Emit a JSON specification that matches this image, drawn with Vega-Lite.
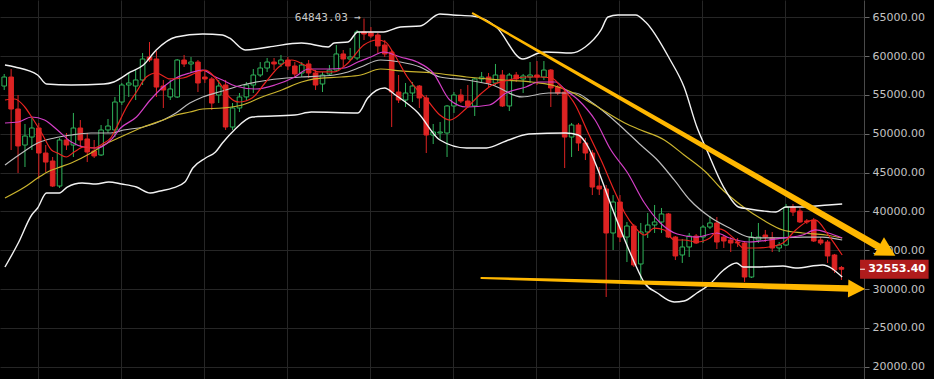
{
"$schema":"https://vega.github.io/schema/vega-lite/v6.json",
"width":864,"height":379,
"autosize":{"type":"none"},
"padding":{"left":0,"top":0,"right":70,"bottom":0},
"background":"#000000",
"config":{"view":{"stroke":null}},
"datasets":{
"candles":[
{"x":-1,"o":56150,"h":57700,"l":55640,"c":57310},
{"x":0,"o":57310,"h":58340,"l":47910,"c":53190},
{"x":1,"o":53190,"h":54990,"l":44950,"c":48430},
{"x":2,"o":48550,"h":51260,"l":45720,"c":49710},
{"x":3,"o":49580,"h":52030,"l":47910,"c":50740},
{"x":4,"o":50740,"h":51390,"l":44180,"c":47520},
{"x":5,"o":47520,"h":48550,"l":45080,"c":46360},
{"x":6,"o":46490,"h":47010,"l":43140,"c":43270},
{"x":7,"o":43270,"h":49460,"l":43020,"c":49200},
{"x":8,"o":49200,"h":50100,"l":47910,"c":48550},
{"x":9,"o":48550,"h":52680,"l":47010,"c":50740},
{"x":10,"o":50740,"h":51770,"l":48300,"c":49200},
{"x":11,"o":49330,"h":50100,"l":46360,"c":47650},
{"x":12,"o":47780,"h":49200,"l":46880,"c":47140},
{"x":13,"o":47270,"h":51130,"l":47140,"c":50490},
{"x":14,"o":50490,"h":51900,"l":50100,"c":51000},
{"x":15,"o":50490,"h":54740,"l":49580,"c":54090},
{"x":16,"o":54090,"h":56540,"l":53710,"c":56280},
{"x":17,"o":56280,"h":57830,"l":54740,"c":56540},
{"x":18,"o":56150,"h":58210,"l":54350,"c":56930},
{"x":19,"o":56930,"h":60400,"l":56280,"c":59630},
{"x":20,"o":59890,"h":61820,"l":59240,"c":59500},
{"x":21,"o":59630,"h":60660,"l":54740,"c":56020},
{"x":22,"o":56150,"h":56930,"l":53320,"c":55640},
{"x":23,"o":54740,"h":56930,"l":54350,"c":55770},
{"x":24,"o":54740,"h":59630,"l":54610,"c":59500},
{"x":25,"o":59500,"h":60150,"l":58600,"c":58990},
{"x":26,"o":58990,"h":59890,"l":57830,"c":59240},
{"x":27,"o":59240,"h":59500,"l":55380,"c":56540},
{"x":28,"o":57310,"h":58210,"l":56540,"c":57060},
{"x":29,"o":57060,"h":57310,"l":53060,"c":53960},
{"x":30,"o":54990,"h":56930,"l":53960,"c":56150},
{"x":31,"o":56280,"h":56930,"l":50490,"c":50870},
{"x":32,"o":50870,"h":53960,"l":50490,"c":53320},
{"x":33,"o":53320,"h":55250,"l":52800,"c":54740},
{"x":34,"o":54740,"h":56670,"l":54350,"c":56280},
{"x":35,"o":56280,"h":58340,"l":55250,"c":57570},
{"x":36,"o":57570,"h":59240,"l":57310,"c":58470},
{"x":37,"o":58470,"h":59760,"l":57960,"c":59240},
{"x":38,"o":59240,"h":59760,"l":58210,"c":58990},
{"x":39,"o":58990,"h":60150,"l":58600,"c":59500},
{"x":40,"o":59500,"h":59890,"l":58210,"c":58730},
{"x":41,"o":58730,"h":59240,"l":57180,"c":57700},
{"x":42,"o":57830,"h":59240,"l":57310,"c":58860},
{"x":43,"o":58990,"h":59500,"l":57180,"c":57830},
{"x":44,"o":57830,"h":58210,"l":55640,"c":56280},
{"x":45,"o":56410,"h":57960,"l":55380,"c":57570},
{"x":46,"o":57700,"h":58860,"l":57570,"c":58210},
{"x":47,"o":58210,"h":61430,"l":58090,"c":60280},
{"x":48,"o":60280,"h":60790,"l":58600,"c":59630},
{"x":49,"o":59630,"h":61050,"l":59370,"c":59890},
{"x":50,"o":59760,"h":63370,"l":59500,"c":63110},
{"x":51,"o":63110,"h":64843.03,"l":62080,"c":62850},
{"x":52,"o":62980,"h":63750,"l":62340,"c":62590},
{"x":53,"o":62720,"h":62980,"l":60400,"c":61310},
{"x":54,"o":61430,"h":62080,"l":59890,"c":60280},
{"x":55,"o":60530,"h":60790,"l":50870,"c":55380},
{"x":56,"o":55380,"h":57570,"l":53960,"c":54350},
{"x":57,"o":54350,"h":56540,"l":53450,"c":55250},
{"x":58,"o":55250,"h":56670,"l":54090,"c":56150},
{"x":59,"o":56150,"h":56280,"l":53320,"c":54610},
{"x":60,"o":54610,"h":54990,"l":47520,"c":49840},
{"x":61,"o":49840,"h":51260,"l":48680,"c":50230},
{"x":62,"o":50100,"h":51520,"l":49200,"c":50230},
{"x":63,"o":50100,"h":53710,"l":47010,"c":53580},
{"x":64,"o":53580,"h":55380,"l":52680,"c":54990},
{"x":65,"o":54990,"h":55770,"l":53960,"c":54220},
{"x":66,"o":54220,"h":56280,"l":53320,"c":53580},
{"x":67,"o":53580,"h":57180,"l":52290,"c":57060},
{"x":68,"o":57060,"h":57960,"l":56540,"c":57310},
{"x":69,"o":57310,"h":57830,"l":56020,"c":56540},
{"x":70,"o":56540,"h":58990,"l":56280,"c":57570},
{"x":71,"o":57570,"h":58210,"l":53450,"c":53580},
{"x":72,"o":53580,"h":57830,"l":52930,"c":57570},
{"x":73,"o":57570,"h":57960,"l":56670,"c":57060},
{"x":74,"o":57060,"h":57700,"l":55250,"c":57440},
{"x":75,"o":57310,"h":59240,"l":56540,"c":57570},
{"x":76,"o":57570,"h":59370,"l":56280,"c":57310},
{"x":77,"o":57310,"h":59370,"l":56930,"c":58210},
{"x":78,"o":58210,"h":58340,"l":53450,"c":55900},
{"x":79,"o":56020,"h":56280,"l":54990,"c":55250},
{"x":80,"o":55380,"h":55900,"l":45590,"c":49580},
{"x":81,"o":49580,"h":51390,"l":47010,"c":51130},
{"x":82,"o":51130,"h":51390,"l":47780,"c":48810},
{"x":83,"o":48810,"h":49460,"l":46620,"c":47520},
{"x":84,"o":47520,"h":47910,"l":42110,"c":43140},
{"x":85,"o":43270,"h":45720,"l":42110,"c":42890},
{"x":86,"o":42890,"h":43400,"l":28980,"c":37220},
{"x":87,"o":37220,"h":42110,"l":35030,"c":41210},
{"x":88,"o":41210,"h":42110,"l":36060,"c":36700},
{"x":89,"o":36700,"h":38640,"l":33480,"c":38120},
{"x":90,"o":38120,"h":38380,"l":32840,"c":33100},
{"x":91,"o":33230,"h":38510,"l":31170,"c":37350},
{"x":92,"o":37350,"h":39800,"l":36580,"c":38250},
{"x":93,"o":38250,"h":40830,"l":37220,"c":38640},
{"x":94,"o":38640,"h":40440,"l":37220,"c":39670},
{"x":95,"o":39670,"h":39800,"l":36580,"c":36700},
{"x":96,"o":36700,"h":36830,"l":33740,"c":34260},
{"x":97,"o":34390,"h":36450,"l":33360,"c":35420},
{"x":98,"o":35420,"h":37220,"l":34130,"c":36830},
{"x":99,"o":36830,"h":37090,"l":35800,"c":35930},
{"x":100,"o":36700,"h":38250,"l":35930,"c":37990},
{"x":101,"o":37990,"h":39410,"l":37740,"c":38510},
{"x":102,"o":38510,"h":39280,"l":35160,"c":36060},
{"x":103,"o":36700,"h":36960,"l":35290,"c":36190},
{"x":104,"o":36320,"h":36700,"l":34770,"c":35930},
{"x":105,"o":36060,"h":36580,"l":35420,"c":35930},
{"x":106,"o":35930,"h":36060,"l":30910,"c":31550},
{"x":107,"o":31550,"h":37350,"l":31420,"c":36700},
{"x":108,"o":36320,"h":38510,"l":35930,"c":36700},
{"x":109,"o":36960,"h":37610,"l":36060,"c":36700},
{"x":110,"o":36580,"h":37350,"l":34770,"c":35290},
{"x":111,"o":35290,"h":36060,"l":34770,"c":35670},
{"x":112,"o":35670,"h":40960,"l":35550,"c":40570},
{"x":113,"o":40570,"h":40960,"l":39410,"c":39920},
{"x":114,"o":40050,"h":40440,"l":38510,"c":38640},
{"x":115,"o":38770,"h":39020,"l":38380,"c":38640},
{"x":116,"o":38890,"h":39150,"l":36060,"c":36190},
{"x":117,"o":36320,"h":36700,"l":35670,"c":35930},
{"x":118,"o":36060,"h":36320,"l":33360,"c":34260},
{"x":119,"o":34390,"h":34520,"l":32070,"c":32450},
{"x":120,"o":32780,"h":32970,"l":31170,"c":32553.4}
],
"lines":[
{"s":"U","x":-0.89,"v":58860},{"s":"U","x":0.54,"v":58600},{"s":"U","x":3.83,"v":57570},{"s":"U","x":5.11,"v":56410},{"s":"U","x":8.69,"v":56280},{"s":"U","x":13.4,"v":56410},{"s":"U","x":14.83,"v":56670},{"s":"U","x":17.26,"v":57960},{"s":"U","x":19.11,"v":58860},{"s":"U","x":20.97,"v":60790},{"s":"U","x":23.83,"v":62460},{"s":"U","x":27.69,"v":62850},{"s":"U","x":30.54,"v":62720},{"s":"U","x":31.54,"v":62340},{"s":"U","x":33.83,"v":60790},{"s":"U","x":37.26,"v":61180},{"s":"U","x":41.97,"v":61690},{"s":"U","x":45.83,"v":61180},{"s":"U","x":46.69,"v":61690},{"s":"U","x":48.69,"v":61820},{"s":"U","x":50.11,"v":63110},{"s":"U","x":51.54,"v":63110},{"s":"U","x":53.83,"v":63110},{"s":"U","x":56.26,"v":63750},{"s":"U","x":59.11,"v":63880},{"s":"U","x":61.97,"v":65430},{"s":"U","x":63.83,"v":65300},{"s":"U","x":66.69,"v":65170},{"s":"U","x":70.11,"v":63750},{"s":"U","x":73.97,"v":59630},{"s":"U","x":76.26,"v":60400},{"s":"U","x":77.26,"v":60530},{"s":"U","x":80.97,"v":60400},{"s":"U","x":82.97,"v":61180},{"s":"U","x":85.26,"v":63370},{"s":"U","x":86.26,"v":65040},{"s":"U","x":87.69,"v":65300},{"s":"U","x":90.26,"v":65300},{"s":"U","x":91.69,"v":64400},{"s":"U","x":95.26,"v":59500},{"s":"U","x":97.26,"v":56020},{"s":"U","x":99.11,"v":50870},{"s":"U","x":100.54,"v":47910},{"s":"U","x":102.97,"v":43140},{"s":"U","x":105.11,"v":40570},{"s":"U","x":106.69,"v":40310},{"s":"U","x":108.69,"v":40050},{"s":"U","x":110.54,"v":39920},{"s":"U","x":111.97,"v":40570},{"s":"U","x":113.83,"v":40570},{"s":"U","x":118.11,"v":40830},{"s":"U","x":120.11,"v":40960},
{"s":"M","x":-0.89,"v":45980},{"s":"M","x":1.54,"v":47520},{"s":"M","x":3.83,"v":48810},{"s":"M","x":6.26,"v":49460},{"s":"M","x":8.69,"v":49840},{"s":"M","x":11.54,"v":50100},{"s":"M","x":14.4,"v":50100},{"s":"M","x":16.26,"v":50490},{"s":"M","x":19.11,"v":50870},{"s":"M","x":21.97,"v":51770},{"s":"M","x":23.83,"v":52680},{"s":"M","x":25.83,"v":53960},{"s":"M","x":27.69,"v":54740},{"s":"M","x":30.54,"v":55510},{"s":"M","x":33.4,"v":56280},{"s":"M","x":37.26,"v":56930},{"s":"M","x":41.97,"v":57310},{"s":"M","x":46.69,"v":57570},{"s":"M","x":48.69,"v":57960},{"s":"M","x":50.54,"v":58600},{"s":"M","x":53.4,"v":59500},{"s":"M","x":56.26,"v":59240},{"s":"M","x":59.11,"v":58600},{"s":"M","x":61.97,"v":57310},{"s":"M","x":65.83,"v":56930},{"s":"M","x":69.54,"v":56280},{"s":"M","x":73.83,"v":54740},{"s":"M","x":77.69,"v":55250},{"s":"M","x":81.54,"v":55250},{"s":"M","x":83.83,"v":54090},{"s":"M","x":86.26,"v":52420},{"s":"M","x":88.69,"v":50490},{"s":"M","x":91,"v":48550},{"s":"M","x":93.4,"v":46620},{"s":"M","x":95.83,"v":44050},{"s":"M","x":98.11,"v":41470},{"s":"M","x":101,"v":39280},{"s":"M","x":103.83,"v":37860},{"s":"M","x":106.69,"v":36700},{"s":"M","x":108.69,"v":36580},{"s":"M","x":111.54,"v":36580},{"s":"M","x":114.4,"v":36700},{"s":"M","x":117.26,"v":36700},{"s":"M","x":120.11,"v":36320},
{"s":"L","x":-0.89,"v":32840},{"s":"L","x":1.03,"v":35930},{"s":"L","x":2.97,"v":39540},{"s":"L","x":3.83,"v":40440},{"s":"L","x":5.11,"v":42370},{"s":"L","x":6.97,"v":42370},{"s":"L","x":8.11,"v":43140},{"s":"L","x":10.26,"v":43660},{"s":"L","x":12.26,"v":43530},{"s":"L","x":14.11,"v":43790},{"s":"L","x":15.97,"v":43530},{"s":"L","x":18.11,"v":43140},{"s":"L","x":20.11,"v":42370},{"s":"L","x":21.54,"v":42630},{"s":"L","x":23.4,"v":43020},{"s":"L","x":25.11,"v":43790},{"s":"L","x":26.26,"v":45590},{"s":"L","x":28.11,"v":46880},{"s":"L","x":29.54,"v":47650},{"s":"L","x":30.54,"v":48810},{"s":"L","x":32.26,"v":50490},{"s":"L","x":34.83,"v":52160},{"s":"L","x":41,"v":52420},{"s":"L","x":43.4,"v":52800},{"s":"L","x":50.11,"v":52680},{"s":"L","x":51.54,"v":54610},{"s":"L","x":53.97,"v":55900},{"s":"L","x":55.54,"v":54990},{"s":"L","x":58.83,"v":52680},{"s":"L","x":61.97,"v":49200},{"s":"L","x":65.83,"v":48170},{"s":"L","x":68.69,"v":48170},{"s":"L","x":71.54,"v":49070},{"s":"L","x":74.83,"v":49970},{"s":"L","x":80.11,"v":50100},{"s":"L","x":81.97,"v":49840},{"s":"L","x":83.4,"v":48300},{"s":"L","x":84.83,"v":45330},{"s":"L","x":86.69,"v":40830},{"s":"L","x":88.69,"v":36320},{"s":"L","x":90.11,"v":33360},{"s":"L","x":91.54,"v":30780},{"s":"L","x":93.4,"v":29490},{"s":"L","x":95.83,"v":28330},{"s":"L","x":97.26,"v":28460},{"s":"L","x":99.11,"v":29490},{"s":"L","x":101,"v":30650},{"s":"L","x":102.97,"v":32450},{"s":"L","x":104.83,"v":33360},{"s":"L","x":105.83,"v":32840},{"s":"L","x":107.69,"v":32840},{"s":"L","x":111.54,"v":32970},{"s":"L","x":113.4,"v":32710},{"s":"L","x":117.26,"v":33100},{"s":"L","x":120.11,"v":31550},
{"s":"Y","x":-0.89,"v":41730},{"s":"Y","x":1.97,"v":43140},{"s":"Y","x":3.83,"v":44300},{"s":"Y","x":5.26,"v":45080},{"s":"Y","x":6.69,"v":45590},{"s":"Y","x":8.69,"v":46240},{"s":"Y","x":11.54,"v":47520},{"s":"Y","x":13.4,"v":48550},{"s":"Y","x":15.83,"v":49580},{"s":"Y","x":19.11,"v":50870},{"s":"Y","x":21.97,"v":51770},{"s":"Y","x":23.83,"v":52420},{"s":"Y","x":25.83,"v":52800},{"s":"Y","x":27.69,"v":53190},{"s":"Y","x":30.54,"v":53320},{"s":"Y","x":33.4,"v":53710},{"s":"Y","x":36.26,"v":54740},{"s":"Y","x":39.11,"v":55640},{"s":"Y","x":41.97,"v":56670},{"s":"Y","x":43.83,"v":57060},{"s":"Y","x":47.69,"v":57310},{"s":"Y","x":50.54,"v":57570},{"s":"Y","x":53.4,"v":58340},{"s":"Y","x":56.26,"v":58090},{"s":"Y","x":61,"v":57830},{"s":"Y","x":65.83,"v":57310},{"s":"Y","x":70.54,"v":56930},{"s":"Y","x":75.26,"v":56670},{"s":"Y","x":78.11,"v":56280},{"s":"Y","x":80.97,"v":55380},{"s":"Y","x":83.83,"v":53960},{"s":"Y","x":88.69,"v":51390},{"s":"Y","x":91,"v":50490},{"s":"Y","x":94.4,"v":49200},{"s":"Y","x":97.26,"v":47270},{"s":"Y","x":100.54,"v":44950},{"s":"Y","x":102.4,"v":43140},{"s":"Y","x":105.83,"v":40570},{"s":"Y","x":108.69,"v":38890},{"s":"Y","x":111.54,"v":37610},{"s":"Y","x":114.4,"v":37220},{"s":"Y","x":117.69,"v":36960},{"s":"Y","x":120.11,"v":36580},
{"s":"P","x":-0.89,"v":51390},{"s":"P","x":1.03,"v":51520},{"s":"P","x":2.97,"v":52160},{"s":"P","x":4.83,"v":51770},{"s":"P","x":6.69,"v":50490},{"s":"P","x":8.69,"v":48940},{"s":"P","x":10.54,"v":48300},{"s":"P","x":12.4,"v":48170},{"s":"P","x":14.4,"v":49200},{"s":"P","x":15.83,"v":50740},{"s":"P","x":18.11,"v":52160},{"s":"P","x":20.11,"v":54350},{"s":"P","x":21.97,"v":56020},{"s":"P","x":23.83,"v":57180},{"s":"P","x":25.83,"v":57830},{"s":"P","x":27.69,"v":58210},{"s":"P","x":29.54,"v":57310},{"s":"P","x":30.54,"v":56930},{"s":"P","x":32.4,"v":56150},{"s":"P","x":35.26,"v":55770},{"s":"P","x":38.11,"v":56280},{"s":"P","x":41,"v":57310},{"s":"P","x":42.97,"v":58340},{"s":"P","x":45.83,"v":58340},{"s":"P","x":48.11,"v":58470},{"s":"P","x":50.11,"v":59240},{"s":"P","x":51.97,"v":59890},{"s":"P","x":53.83,"v":60530},{"s":"P","x":56.26,"v":59890},{"s":"P","x":58.69,"v":59240},{"s":"P","x":61,"v":57830},{"s":"P","x":63.4,"v":54350},{"s":"P","x":65.83,"v":53450},{"s":"P","x":69.11,"v":53710},{"s":"P","x":71.54,"v":55250},{"s":"P","x":74.4,"v":56020},{"s":"P","x":76.26,"v":56670},{"s":"P","x":78.69,"v":56670},{"s":"P","x":80.11,"v":55640},{"s":"P","x":81.97,"v":54350},{"s":"P","x":84.4,"v":51770},{"s":"P","x":86.69,"v":47910},{"s":"P","x":89.11,"v":44950},{"s":"P","x":91.54,"v":41080},{"s":"P","x":93.83,"v":38510},{"s":"P","x":96.26,"v":37090},{"s":"P","x":99.11,"v":36700},{"s":"P","x":101.97,"v":37220},{"s":"P","x":103.83,"v":36580},{"s":"P","x":106.69,"v":36060},{"s":"P","x":109.54,"v":36320},{"s":"P","x":111.54,"v":36580},{"s":"P","x":114.4,"v":36960},{"s":"P","x":116.26,"v":37610},{"s":"P","x":118.11,"v":37220},{"s":"P","x":120.11,"v":36580},
{"s":"R","x":-0.89,"v":54350},{"s":"R","x":0.54,"v":54480},{"s":"R","x":1.97,"v":53450},{"s":"R","x":2.97,"v":52160},{"s":"R","x":4.4,"v":50100},{"s":"R","x":5.83,"v":47910},{"s":"R","x":6.69,"v":47520},{"s":"R","x":7.97,"v":47010},{"s":"R","x":9.11,"v":47650},{"s":"R","x":10.54,"v":48300},{"s":"R","x":11.97,"v":48170},{"s":"R","x":13.4,"v":48810},{"s":"R","x":14.4,"v":49460},{"s":"R","x":15.26,"v":50870},{"s":"R","x":16.69,"v":53450},{"s":"R","x":18.11,"v":55380},{"s":"R","x":19.54,"v":57310},{"s":"R","x":20.97,"v":57830},{"s":"R","x":22.97,"v":57060},{"s":"R","x":24.83,"v":57180},{"s":"R","x":26.69,"v":57830},{"s":"R","x":28.11,"v":58210},{"s":"R","x":29.54,"v":57180},{"s":"R","x":30.54,"v":56020},{"s":"R","x":31.54,"v":54740},{"s":"R","x":32.97,"v":54090},{"s":"R","x":34.83,"v":54610},{"s":"R","x":36.69,"v":56540},{"s":"R","x":38.69,"v":58600},{"s":"R","x":40.54,"v":59500},{"s":"R","x":42.4,"v":58860},{"s":"R","x":44.4,"v":57960},{"s":"R","x":46.69,"v":57960},{"s":"R","x":48.69,"v":59120},{"s":"R","x":50.97,"v":61430},{"s":"R","x":52.97,"v":62080},{"s":"R","x":54.11,"v":61820},{"s":"R","x":55.26,"v":60400},{"s":"R","x":57.26,"v":57310},{"s":"R","x":59.11,"v":55250},{"s":"R","x":60.11,"v":54350},{"s":"R","x":61.97,"v":52420},{"s":"R","x":63.4,"v":51770},{"s":"R","x":65.83,"v":53320},{"s":"R","x":67.69,"v":54990},{"s":"R","x":69.54,"v":56280},{"s":"R","x":71.97,"v":56930},{"s":"R","x":74.4,"v":57310},{"s":"R","x":76.26,"v":57310},{"s":"R","x":78.11,"v":57180},{"s":"R","x":79.54,"v":56020},{"s":"R","x":81.54,"v":53710},{"s":"R","x":83.4,"v":50100},{"s":"R","x":85.26,"v":46620},{"s":"R","x":87.26,"v":42500},{"s":"R","x":88.69,"v":39800},{"s":"R","x":90.11,"v":37990},{"s":"R","x":91.54,"v":36960},{"s":"R","x":92.97,"v":37860},{"s":"R","x":94.4,"v":37610},{"s":"R","x":95.83,"v":36320},{"s":"R","x":97.26,"v":36320},{"s":"R","x":99.11,"v":36060},{"s":"R","x":101,"v":36580},{"s":"R","x":102.4,"v":37740},{"s":"R","x":104.4,"v":36580},{"s":"R","x":105.83,"v":35290},{"s":"R","x":107.69,"v":35290},{"s":"R","x":109.54,"v":35420},{"s":"R","x":111.54,"v":35930},{"s":"R","x":113.4,"v":37610},{"s":"R","x":115.26,"v":38770},{"s":"R","x":116.26,"v":38890},{"s":"R","x":118.11,"v":36960},{"s":"R","x":120.11,"v":34390}
],
"arrows":[
{"a":"top","x":66.73,"v":65517},{"a":"top","x":125.69,"v":35288},
{"a":"bottom","x":67.97,"v":31424},{"a":"bottom","x":120.97,"v":30072}
],
"headTop":[{"x":126.6,"v":34900}],
"headBottom":[{"x":122.2,"v":30046}],
"maxLabel":[{"x":51,"v":64843.03,"t":"64843.03 →"}],
"last":[{"v":32553.4,"t":"32553.40"}]
},
"layer":[
{"data":{"name":"candles"},"mark":{"type":"rule","strokeWidth":1},
"encoding":{
"x":{"field":"x","type":"quantitative","scale":{"domain":[-0.886,122.54],"nice":false,"zero":false},
"axis":{"grid":true,"values":[3.83,15.83,27.83,39.83,51.83,63.83,75.83,87.83,99.83,111.83],"labels":false,"ticks":false,"domain":false,"title":null,"gridColor":"#262626","gridWidth":1}},
"y":{"field":"l","type":"quantitative","scale":{"domain":[18415,67230],"nice":false,"zero":false},
"axis":{"orient":"right","values":[20000,25000,30000,35000,40000,45000,50000,55000,60000,65000],"format":".2f","title":null,"grid":true,"gridColor":"#262626","labelColor":"#c3c3c3","labelFont":"DejaVu Sans","labelFontSize":11,"tickColor":"#6a6a6a","tickSize":5,"labelPadding":3,"domainColor":"#4a4a4a"}},
"y2":{"field":"h"},
"color":{"condition":{"test":"datum.c >= datum.o","value":"#2fb35a"},"value":"#dd2323"}
}},
{"data":{"name":"candles"},"mark":{"type":"bar","width":4.6,"strokeWidth":1},
"encoding":{
"x":{"field":"x","type":"quantitative","scale":{"domain":[-0.886,122.54],"nice":false,"zero":false},
"axis":{"grid":true,"values":[3.83,15.83,27.83,39.83,51.83,63.83,75.83,87.83,99.83,111.83],"labels":false,"ticks":false,"domain":false,"title":null,"gridColor":"#262626","gridWidth":1}},
"y":{"field":"o","type":"quantitative","scale":{"domain":[18415,67230],"nice":false,"zero":false},
"axis":{"orient":"right","values":[20000,25000,30000,35000,40000,45000,50000,55000,60000,65000],"format":".2f","title":null,"grid":true,"gridColor":"#262626","labelColor":"#c3c3c3","labelFont":"DejaVu Sans","labelFontSize":11,"tickColor":"#6a6a6a","tickSize":5,"labelPadding":3,"domainColor":"#4a4a4a"}},
"y2":{"field":"c"},
"fill":{"condition":{"test":"datum.c >= datum.o","value":"#000000"},"value":"#dd2323"},
"stroke":{"condition":{"test":"datum.c >= datum.o","value":"#2fb35a"},"value":"#dd2323"}
}},
{"data":{"name":"lines"},"transform":[{"filter":"datum.s != 'U' && datum.s != 'L'"}],"mark":{"type":"line","strokeWidth":1.2,"interpolate":"monotone"},
"encoding":{
"x":{"field":"x","type":"quantitative","scale":{"domain":[-0.886,122.54],"nice":false,"zero":false},
"axis":{"grid":true,"values":[3.83,15.83,27.83,39.83,51.83,63.83,75.83,87.83,99.83,111.83],"labels":false,"ticks":false,"domain":false,"title":null,"gridColor":"#262626","gridWidth":1}},
"y":{"field":"v","type":"quantitative","scale":{"domain":[18415,67230],"nice":false,"zero":false},
"axis":{"orient":"right","values":[20000,25000,30000,35000,40000,45000,50000,55000,60000,65000],"format":".2f","title":null,"grid":true,"gridColor":"#262626","labelColor":"#c3c3c3","labelFont":"DejaVu Sans","labelFontSize":11,"tickColor":"#6a6a6a","tickSize":5,"labelPadding":3,"domainColor":"#4a4a4a"}},
"color":{"field":"s","type":"nominal","scale":{"domain":["U","L","M","Y","P","R"],"range":["#f2f2f2","#f2f2f2","#bdbdbd","#cbb42e","#d43fc6","#e8231f"]},"legend":null},
"order":{"field":"x","type":"quantitative"}
}},
{"data":{"name":"lines"},"transform":[{"filter":"datum.s == 'U' || datum.s == 'L'"}],"mark":{"type":"line","strokeWidth":1.4,"interpolate":"monotone"},
"encoding":{
"x":{"field":"x","type":"quantitative","scale":{"domain":[-0.886,122.54],"nice":false,"zero":false},
"axis":{"grid":true,"values":[3.83,15.83,27.83,39.83,51.83,63.83,75.83,87.83,99.83,111.83],"labels":false,"ticks":false,"domain":false,"title":null,"gridColor":"#262626","gridWidth":1}},
"y":{"field":"v","type":"quantitative","scale":{"domain":[18415,67230],"nice":false,"zero":false},
"axis":{"orient":"right","values":[20000,25000,30000,35000,40000,45000,50000,55000,60000,65000],"format":".2f","title":null,"grid":true,"gridColor":"#262626","labelColor":"#c3c3c3","labelFont":"DejaVu Sans","labelFontSize":11,"tickColor":"#6a6a6a","tickSize":5,"labelPadding":3,"domainColor":"#4a4a4a"}},
"color":{"field":"s","type":"nominal","scale":{"domain":["U","L","M","Y","P","R"],"range":["#f2f2f2","#f2f2f2","#bdbdbd","#cbb42e","#d43fc6","#e8231f"]},"legend":null},
"order":{"field":"x","type":"quantitative"}
}},
{"data":{"name":"maxLabel"},"mark":{"type":"text","align":"right","baseline":"middle","dx":-3,"dy":-1,"font":"DejaVu Sans Mono","fontSize":11,"color":"#c8c8c8"},
"encoding":{
"x":{"field":"x","type":"quantitative","scale":{"domain":[-0.886,122.54],"nice":false,"zero":false},
"axis":{"grid":true,"values":[3.83,15.83,27.83,39.83,51.83,63.83,75.83,87.83,99.83,111.83],"labels":false,"ticks":false,"domain":false,"title":null,"gridColor":"#262626","gridWidth":1}},
"y":{"field":"v","type":"quantitative","scale":{"domain":[18415,67230],"nice":false,"zero":false},
"axis":{"orient":"right","values":[20000,25000,30000,35000,40000,45000,50000,55000,60000,65000],"format":".2f","title":null,"grid":true,"gridColor":"#262626","labelColor":"#c3c3c3","labelFont":"DejaVu Sans","labelFontSize":11,"tickColor":"#6a6a6a","tickSize":5,"labelPadding":3,"domainColor":"#4a4a4a"}},
"text":{"field":"t"}
}},
{"data":{"name":"last"},"mark":{"type":"rect","color":"#b01c1c"},
"encoding":{
"x":{"datum":122.69,"type":"quantitative","scale":{"domain":[-0.886,122.54],"nice":false,"zero":false},
"axis":{"grid":true,"values":[3.83,15.83,27.83,39.83,51.83,63.83,75.83,87.83,99.83,111.83],"labels":false,"ticks":false,"domain":false,"title":null,"gridColor":"#262626","gridWidth":1}},
"x2":{"datum":132.6},
"y":{"datum":33777,"type":"quantitative","scale":{"domain":[18415,67230],"nice":false,"zero":false},
"axis":{"orient":"right","values":[20000,25000,30000,35000,40000,45000,50000,55000,60000,65000],"format":".2f","title":null,"grid":true,"gridColor":"#262626","labelColor":"#c3c3c3","labelFont":"DejaVu Sans","labelFontSize":11,"tickColor":"#6a6a6a","tickSize":5,"labelPadding":3,"domainColor":"#4a4a4a"}},
"y2":{"datum":31330}
}},
{"data":{"name":"last"},"mark":{"type":"rule","color":"#ffffff","strokeWidth":1},
"encoding":{
"x":{"datum":122.69,"type":"quantitative","scale":{"domain":[-0.886,122.54],"nice":false,"zero":false},
"axis":{"grid":true,"values":[3.83,15.83,27.83,39.83,51.83,63.83,75.83,87.83,99.83,111.83],"labels":false,"ticks":false,"domain":false,"title":null,"gridColor":"#262626","gridWidth":1}},
"x2":{"datum":123.4},
"y":{"field":"v","type":"quantitative","scale":{"domain":[18415,67230],"nice":false,"zero":false},
"axis":{"orient":"right","values":[20000,25000,30000,35000,40000,45000,50000,55000,60000,65000],"format":".2f","title":null,"grid":true,"gridColor":"#262626","labelColor":"#c3c3c3","labelFont":"DejaVu Sans","labelFontSize":11,"tickColor":"#6a6a6a","tickSize":5,"labelPadding":3,"domainColor":"#4a4a4a"}}
}},
{"data":{"name":"last"},"mark":{"type":"text","align":"left","baseline":"middle","font":"DejaVu Sans","fontSize":11,"fontWeight":"bold","color":"#ffffff"},
"encoding":{
"x":{"datum":123.87,"type":"quantitative","scale":{"domain":[-0.886,122.54],"nice":false,"zero":false},
"axis":{"grid":true,"values":[3.83,15.83,27.83,39.83,51.83,63.83,75.83,87.83,99.83,111.83],"labels":false,"ticks":false,"domain":false,"title":null,"gridColor":"#262626","gridWidth":1}},
"y":{"field":"v","type":"quantitative","scale":{"domain":[18415,67230],"nice":false,"zero":false},
"axis":{"orient":"right","values":[20000,25000,30000,35000,40000,45000,50000,55000,60000,65000],"format":".2f","title":null,"grid":true,"gridColor":"#262626","labelColor":"#c3c3c3","labelFont":"DejaVu Sans","labelFontSize":11,"tickColor":"#6a6a6a","tickSize":5,"labelPadding":3,"domainColor":"#4a4a4a"}},
"text":{"field":"t"}
}},
{"data":{"name":"arrows"},"mark":{"type":"trail","color":"#ffb700"},
"encoding":{
"x":{"field":"x","type":"quantitative","scale":{"domain":[-0.886,122.54],"nice":false,"zero":false},
"axis":{"grid":true,"values":[3.83,15.83,27.83,39.83,51.83,63.83,75.83,87.83,99.83,111.83],"labels":false,"ticks":false,"domain":false,"title":null,"gridColor":"#262626","gridWidth":1}},
"y":{"field":"v","type":"quantitative","scale":{"domain":[18415,67230],"nice":false,"zero":false},
"axis":{"orient":"right","values":[20000,25000,30000,35000,40000,45000,50000,55000,60000,65000],"format":".2f","title":null,"grid":true,"gridColor":"#262626","labelColor":"#c3c3c3","labelFont":"DejaVu Sans","labelFontSize":11,"tickColor":"#6a6a6a","tickSize":5,"labelPadding":3,"domainColor":"#4a4a4a"}},
"detail":{"field":"a"},
"order":{"field":"x","type":"quantitative"},
"size":{"field":"x","type":"quantitative","scale":{"domain":[66.7,125.7],"range":[2,7],"zero":false,"nice":false},"legend":null}
}},
{"data":{"name":"headTop"},"mark":{"type":"point","shape":"M-1,-1.1L1,0L-1,1.1Z","filled":true,"size":361,"angle":29.6,"color":"#ffb700","opacity":1,"strokeWidth":0},
"encoding":{
"x":{"field":"x","type":"quantitative","scale":{"domain":[-0.886,122.54],"nice":false,"zero":false},
"axis":{"grid":true,"values":[3.83,15.83,27.83,39.83,51.83,63.83,75.83,87.83,99.83,111.83],"labels":false,"ticks":false,"domain":false,"title":null,"gridColor":"#262626","gridWidth":1}},
"y":{"field":"v","type":"quantitative","scale":{"domain":[18415,67230],"nice":false,"zero":false},
"axis":{"orient":"right","values":[20000,25000,30000,35000,40000,45000,50000,55000,60000,65000],"format":".2f","title":null,"grid":true,"gridColor":"#262626","labelColor":"#c3c3c3","labelFont":"DejaVu Sans","labelFontSize":11,"tickColor":"#6a6a6a","tickSize":5,"labelPadding":3,"domainColor":"#4a4a4a"}}
}},
{"data":{"name":"headBottom"},"mark":{"type":"point","shape":"M-1,-1.05L1,0L-1,1.05Z","filled":true,"size":289,"angle":1.6,"color":"#ffb700","opacity":1,"strokeWidth":0},
"encoding":{
"x":{"field":"x","type":"quantitative","scale":{"domain":[-0.886,122.54],"nice":false,"zero":false},
"axis":{"grid":true,"values":[3.83,15.83,27.83,39.83,51.83,63.83,75.83,87.83,99.83,111.83],"labels":false,"ticks":false,"domain":false,"title":null,"gridColor":"#262626","gridWidth":1}},
"y":{"field":"v","type":"quantitative","scale":{"domain":[18415,67230],"nice":false,"zero":false},
"axis":{"orient":"right","values":[20000,25000,30000,35000,40000,45000,50000,55000,60000,65000],"format":".2f","title":null,"grid":true,"gridColor":"#262626","labelColor":"#c3c3c3","labelFont":"DejaVu Sans","labelFontSize":11,"tickColor":"#6a6a6a","tickSize":5,"labelPadding":3,"domainColor":"#4a4a4a"}}
}}
],
"resolve":{"scale":{"size":"independent"}}
}
